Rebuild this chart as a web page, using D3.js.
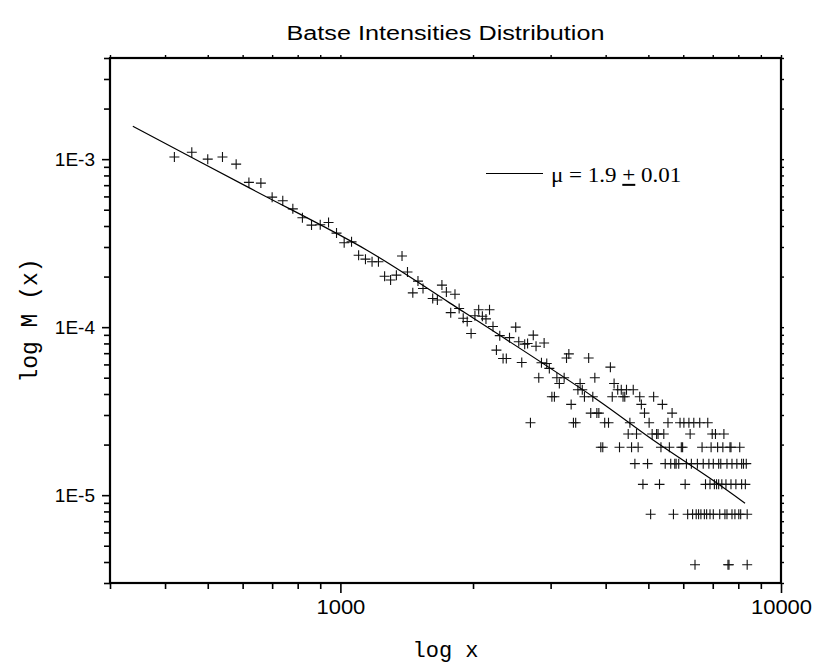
<!DOCTYPE html>
<html>
<head>
<meta charset="utf-8">
<title>Batse Intensities Distribution</title>
<script src="https://cdn.jsdelivr.net/npm/d3@7/dist/d3.min.js"></script>
<style>
  body { margin: 0; background: #fff; }
</style>
</head>
<body>
<svg id="chart" width="814" height="670"></svg>
<script>
// Burst intensity bins and their normalised frequency M(x)
const intensity = [
  420, 460, 500, 540, 580, 620, 660, 700, 740, 780,
  820, 860, 900, 940, 980, 1020, 1060, 1100, 1140, 1180,
  1220, 1260, 1300, 1340, 1380, 1420, 1460, 1500, 1540, 1620,
  1660, 1700, 1740, 1780, 1820, 1860, 1900, 1940, 1980, 2020,
  2060, 2100, 2140, 2180, 2220, 2260, 2300, 2340, 2380, 2420,
  2500, 2540, 2580, 2620, 2660, 2700, 2740, 2780, 2820, 2860,
  2900, 2940, 2980, 3020, 3060, 3100, 3140, 3220, 3260, 3300,
  3340, 3380, 3420, 3460, 3500, 3540, 3580, 3660, 3700, 3740,
  3780, 3820, 3860, 3900, 3940, 3980, 4060, 4100, 4140, 4180,
  4260, 4300, 4340, 4380, 4420, 4460, 4500, 4540, 4580, 4620,
  4660, 4700, 4740, 4780, 4820, 4860, 4900, 4980, 5020, 5060,
  5100, 5140, 5220, 5260, 5300, 5340, 5380, 5420, 5460, 5540,
  5580, 5620, 5660, 5700, 5740, 5780, 5860, 5900, 5940, 5980,
  6020, 6060, 6100, 6140, 6180, 6220, 6260, 6300, 6340, 6380,
  6420, 6460, 6500, 6540, 6580, 6620, 6660, 6700, 6740, 6780,
  6820, 6860, 6900, 6900, 6940, 6980, 7020, 7020, 7060, 7100,
  7140, 7180, 7220, 7220, 7260, 7300, 7340, 7380, 7420, 7460,
  7500, 7540, 7540, 7580, 7620, 7660, 7700, 7700, 7740, 7740,
  7860, 7900, 7940, 8020, 8060, 8100, 8140, 8140, 8220, 8300,
  8340, 8380, 8380
];
const frequency = [
  1.03e-3, 1.10e-3, 1.00e-3, 1.03e-3, 9.34e-4, 7.27e-4, 7.20e-4, 5.94e-4, 5.65e-4, 5.06e-4,
  4.48e-4, 4.05e-4, 4.07e-4, 4.20e-4, 3.63e-4, 3.18e-4, 3.22e-4, 2.68e-4, 2.54e-4, 2.45e-4,
  2.45e-4, 2.01e-4, 1.91e-4, 2.04e-4, 2.65e-4, 2.13e-4, 1.60e-4, 1.88e-4, 1.70e-4, 1.48e-4,
  1.45e-4, 1.78e-4, 1.62e-4, 1.22e-4, 1.57e-4, 1.29e-4, 1.13e-4, 1.08e-4, 9.17e-5, 1.17e-4,
  1.27e-4, 1.16e-4, 1.12e-4, 1.27e-4, 1.01e-4, 7.30e-5, 8.90e-5, 6.51e-5, 6.51e-5, 8.66e-5,
  1.00e-4, 8.18e-5, 6.16e-5, 7.92e-5, 8.00e-5, 2.70e-5, 8.96e-5, 7.69e-5, 5.00e-5, 6.14e-5,
  8.05e-5, 6.08e-5, 5.68e-5, 3.85e-5, 3.85e-5, 5.00e-5, 4.62e-5, 5.00e-5, 6.55e-5, 6.93e-5,
  3.47e-5, 2.70e-5, 2.70e-5, 4.24e-5, 4.62e-5, 4.24e-5, 3.85e-5, 6.55e-5, 3.08e-5, 3.85e-5,
  5.00e-5, 3.08e-5, 3.08e-5, 1.93e-5, 1.93e-5, 2.70e-5, 2.70e-5, 5.78e-5, 3.85e-5, 4.62e-5,
  4.24e-5, 1.93e-5, 4.24e-5, 3.85e-5, 3.85e-5, 4.24e-5, 2.31e-5, 2.70e-5, 1.93e-5, 4.24e-5,
  1.54e-5, 2.31e-5, 1.93e-5, 3.85e-5, 3.47e-5, 1.16e-5, 3.08e-5, 1.54e-5, 2.70e-5, 7.70e-6,
  2.31e-5, 3.85e-5, 2.31e-5, 2.31e-5, 1.16e-5, 1.93e-5, 3.47e-5, 2.31e-5, 1.54e-5, 2.70e-5,
  1.93e-5, 1.54e-5, 3.08e-5, 7.70e-6, 1.54e-5, 1.54e-5, 1.54e-5, 2.70e-5, 1.93e-5, 1.93e-5,
  2.70e-5, 1.16e-5, 1.54e-5, 7.70e-6, 2.70e-5, 2.31e-5, 1.54e-5, 7.70e-6, 2.70e-5, 3.85e-6,
  7.70e-6, 1.54e-5, 7.70e-6, 2.70e-5, 7.70e-6, 1.93e-5, 1.54e-5, 7.70e-6, 1.16e-5, 7.70e-6,
  2.70e-5, 1.54e-5, 1.16e-5, 7.70e-6, 1.93e-5, 2.31e-5, 1.54e-5, 7.70e-6, 1.16e-5, 2.31e-5,
  1.16e-5, 1.93e-5, 1.54e-5, 1.16e-5, 7.70e-6, 1.54e-5, 1.16e-5, 1.93e-5, 2.31e-5, 7.70e-6,
  1.16e-5, 1.54e-5, 7.70e-6, 3.85e-6, 3.85e-6, 1.93e-5, 1.93e-5, 1.16e-5, 1.54e-5, 7.70e-6,
  7.70e-6, 1.16e-5, 1.54e-5, 7.70e-6, 1.93e-5, 7.70e-6, 1.54e-5, 1.16e-5, 1.54e-5, 1.16e-5,
  1.54e-5, 7.70e-6, 3.85e-6
];

// Fitted power-law curve, sampled along its length
const fitIntensity = [338, 623, 1149, 1773, 3784, 5125, 6901, 8287];
const fitFrequency = [1.57e-3, 6.72e-4, 2.87e-4, 1.39e-4, 3.78e-5, 2.13e-5, 1.26e-5, 8.96e-6];

const xMajorTicks = [1000, 10000];
const xMajorLabels = ["1000", "10000"];
const xMinorTicks = [300, 400, 500, 600, 700, 800, 900, 2000, 3000, 4000, 5000, 6000, 7000, 8000, 9000];
const yMajorTicks = [1e-3, 1e-4, 1e-5];
const yMajorLabels = ["1E-3", "1E-4", "1E-5"];
const yMinorTicks = [3e-6, 4e-6, 5e-6, 6e-6, 7e-6, 8e-6, 9e-6,
  2e-5, 3e-5, 4e-5, 5e-5, 6e-5, 7e-5, 8e-5, 9e-5,
  2e-4, 3e-4, 4e-4, 5e-4, 6e-4, 7e-4, 8e-4, 9e-4,
  2e-3, 3e-3, 4e-3];

const titleText = "Batse Intensities Distribution";
const xTitle = "log x";
const yTitle = "log M (x)";
const legendParts = ["\u03bc = 1.9 ", "+", " 0.01"];

const plot = { left: 110, right: 781, top: 58, bottom: 583 };
const svg = d3.select("#chart");

const x = d3.scaleLog().domain([300, 10000]).range([plot.left, plot.right]);
const y = d3.scaleLog().domain([3e-6, 4e-3]).range([plot.bottom, plot.top]);

const sansFont = "'Liberation Sans', Arial, sans-serif";
const monoFont = "'Courier New', 'Liberation Mono', monospace";
const serifFont = "'Liberation Serif', 'Times New Roman', serif";

function tidy(g, width) {
  g.select(".domain").remove();
  g.selectAll(".tick line").attr("stroke", "#000").attr("stroke-width", width);
}

// bottom axis
svg.append("g")
  .attr("transform", `translate(0,${plot.bottom})`)
  .call(d3.axisBottom(x).tickValues(xMinorTicks).tickFormat("").tickSize(6))
  .call(tidy, 1.6);
const xMajorG = svg.append("g")
  .attr("transform", `translate(0,${plot.bottom})`)
  .call(d3.axisBottom(x).tickValues(xMajorTicks).tickFormat((d, i) => xMajorLabels[i]).tickSize(10).tickPadding(7))
  .call(tidy, 1.6);
xMajorG.selectAll(".tick text")
  .attr("font-family", sansFont).attr("font-size", 20).attr("fill", "#000")
  .attr("transform", "scale(1.1,1)");

// top axis (mirror, no labels)
svg.append("g")
  .attr("transform", `translate(0,${plot.top})`)
  .call(d3.axisTop(x).tickValues(xMinorTicks.concat(xMajorTicks)).tickFormat("").tickSize(3))
  .call(tidy, 1.4);

// left axis
svg.append("g")
  .attr("transform", `translate(${plot.left},0)`)
  .call(d3.axisLeft(y).tickValues(yMinorTicks).tickFormat("").tickSize(6))
  .call(tidy, 1.6);
const yMajorG = svg.append("g")
  .attr("transform", `translate(${plot.left},0)`)
  .call(d3.axisLeft(y).tickValues(yMajorTicks).tickFormat((d, i) => yMajorLabels[i]).tickSize(8).tickPadding(7))
  .call(tidy, 1.6);
yMajorG.selectAll(".tick text")
  .attr("font-family", sansFont).attr("font-size", 19).attr("fill", "#000");

// right axis (mirror, no labels)
svg.append("g")
  .attr("transform", `translate(${plot.right},0)`)
  .call(d3.axisRight(y).tickValues(yMinorTicks.concat(yMajorTicks)).tickFormat("").tickSize(3))
  .call(tidy, 1.4);

// frame
svg.append("rect")
  .attr("x", plot.left).attr("y", plot.top)
  .attr("width", plot.right - plot.left).attr("height", plot.bottom - plot.top)
  .attr("fill", "none").attr("stroke", "#000").attr("stroke-width", 2.2);

// data markers
svg.append("g")
  .selectAll("path")
  .data(d3.range(intensity.length))
  .join("path")
  .attr("transform", i => `translate(${x(intensity[i])},${y(frequency[i])})`)
  .attr("d", "M-5,0H5M0,-5V5")
  .attr("fill", "none")
  .attr("stroke", "#111")
  .attr("stroke-width", 1.1);

// fit curve
const fitLine = d3.line()
  .x(i => x(fitIntensity[i]))
  .y(i => y(fitFrequency[i]))
  .curve(d3.curveCatmullRom);
svg.append("path")
  .attr("d", fitLine(d3.range(fitIntensity.length)))
  .attr("fill", "none").attr("stroke", "#000").attr("stroke-width", 1.2);

// legend
svg.append("line")
  .attr("x1", 486).attr("x2", 543).attr("y1", 173.5).attr("y2", 173.5)
  .attr("stroke", "#000").attr("stroke-width", 1.1);
const legendText = svg.append("text")
  .attr("transform", "translate(551,182) scale(1.15,1)")
  .attr("font-family", serifFont).attr("font-size", 20).attr("fill", "#000");
legendText.append("tspan").text(legendParts[0]);
legendText.append("tspan").attr("text-decoration", "underline").text(legendParts[1]);
legendText.append("tspan").text(legendParts[2]);

// title
svg.append("text")
  .attr("x", (plot.left + plot.right) / 2).attr("y", 40)
  .attr("text-anchor", "middle")
  .attr("font-family", sansFont).attr("font-size", 20)
  .attr("textLength", 318).attr("lengthAdjust", "spacingAndGlyphs")
  .attr("fill", "#000")
  .text(titleText);

// axis titles
svg.append("text")
  .attr("x", (plot.left + plot.right) / 2).attr("y", 657)
  .attr("text-anchor", "middle")
  .attr("font-family", monoFont).attr("font-size", 22).attr("fill", "#000")
  .text(xTitle);
svg.append("text")
  .attr("transform", `translate(37,${(plot.top + plot.bottom) / 2}) rotate(-90)`)
  .attr("text-anchor", "middle")
  .attr("font-family", monoFont).attr("font-size", 23).attr("fill", "#000")
  .text(yTitle);
</script>
</body>
</html>
